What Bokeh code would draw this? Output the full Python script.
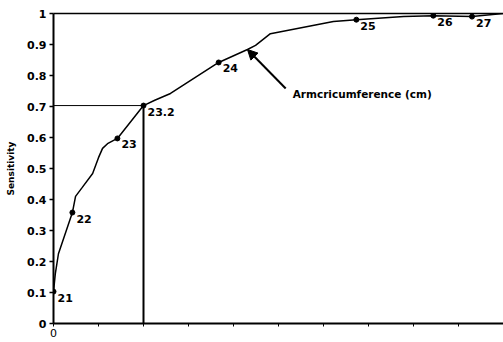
from bokeh.plotting import figure
from bokeh.models import (Range1d, LinearAxis, FixedTicker, ColumnDataSource,
                          Arrow, NormalHead, Label)
from bokeh.core.properties import value
from bokeh.embed import file_html
from bokeh.resources import INLINE

# ROC curve (1 - specificity vs sensitivity) for arm circumference cut-offs
curve_x = [0.0, 0.004, 0.011, 0.042, 0.049, 0.064, 0.087, 0.100, 0.109, 0.120,
           0.142, 0.200, 0.225, 0.260, 0.367, 0.431, 0.449, 0.482, 0.622,
           0.673, 0.778, 0.844, 0.930, 1.0]
curve_y = [0.103, 0.160, 0.225, 0.358, 0.410, 0.439, 0.484, 0.535, 0.565, 0.580,
           0.597, 0.703, 0.720, 0.742, 0.842, 0.884, 0.897, 0.935, 0.974,
           0.980, 0.990, 0.993, 0.990, 1.0]

cut_labels = ["21", "22", "23", "23.2", "24", "25", "26", "27"]
cut_x = [0.0, 0.042, 0.142, 0.200, 0.367, 0.673, 0.844, 0.930]
cut_y = [0.103, 0.358, 0.597, 0.703, 0.842, 0.980, 0.993, 0.990]

chosen_x = 0.200
chosen_y = 0.703

y_ticks = [0, 0.1, 0.2, 0.3, 0.4, 0.5, 0.6, 0.7, 0.8, 0.9, 1]
y_tick_labels = ["0", "0.1", "0.2", "0.3", "0.4", "0.5", "0.6", "0.7", "0.8", "0.9", "1"]
x_ticks = [0, 0.1, 0.2, 0.3, 0.4, 0.5, 0.6, 0.7, 0.8, 0.9]

arrow_label = "Armcricumference (cm)"
arrow_tail = (0.516, 0.758)
arrow_tip = (0.431, 0.884)

FONT = "DejaVu Sans"

p = figure(width=503, height=342, output_backend="svg", toolbar_location=None,
           x_range=Range1d(0, 1), y_range=Range1d(0, 1),
           min_border_left=53, min_border_right=0, min_border_top=13,
           min_border_bottom=19)
p.outline_line_color = None
p.xgrid.visible = False
p.ygrid.visible = False
p.background_fill_color = "white"

# y axis
ya = p.yaxis[0]
ya.ticker = FixedTicker(ticks=y_ticks)
ya.major_label_overrides = {t: l for t, l in zip(y_ticks, y_tick_labels)}
ya.major_label_text_font = FONT
ya.major_label_text_font_style = "bold"
ya.major_label_text_font_size = "11px"
ya.major_label_text_color = "black"
ya.major_tick_out = 4
ya.major_tick_in = 0
ya.major_tick_line_width = 1.5
ya.minor_tick_line_color = None
ya.axis_line_width = 2
ya.axis_label = "Sensitivity"
ya.axis_label_text_font = FONT
ya.axis_label_text_font_style = "bold"
ya.axis_label_text_font_size = "9px"
ya.axis_label_text_color = "black"
ya.axis_label_standoff = 8
ya.major_label_standoff = 3

# x axis
xa = p.xaxis[0]
xa.ticker = FixedTicker(ticks=x_ticks)
xa.major_label_overrides = {t: ("0" if t == 0 else "") for t in x_ticks}
xa.major_label_text_font = FONT
xa.major_label_text_font_size = "11px"
xa.major_label_text_color = "black"
xa.major_tick_out = 3
xa.major_tick_in = 0
xa.minor_tick_line_color = None
xa.axis_line_width = 2
xa.major_label_standoff = 2

# top border line
top = LinearAxis(ticker=FixedTicker(ticks=[]), axis_line_width=1.5,
                 major_label_text_font_size="0px", minor_tick_line_color=None,
                 major_tick_line_color=None)
p.add_layout(top, "above")

# cut-off drop lines
p.segment(x0=[0], y0=[chosen_y], x1=[chosen_x], y1=[chosen_y],
          line_color="black", line_width=1)
p.segment(x0=[chosen_x], y0=[0], x1=[chosen_x], y1=[chosen_y],
          line_color="black", line_width=2)

# ROC curve
p.line(curve_x, curve_y, line_color="black", line_width=1.5)

src = ColumnDataSource(dict(x=cut_x, y=cut_y, t=cut_labels))
p.scatter("x", "y", source=src, size=5, color="black")
p.text("x", "y", text="t", source=src, x_offset=4, y_offset=6,
       text_align="left", text_baseline="middle",
       text_font=value(FONT), text_font_style="bold",
       text_font_size="11px", text_color="black")

# arrow annotation
p.add_layout(Arrow(x_start=arrow_tail[0], y_start=arrow_tail[1],
                   x_end=arrow_tip[0], y_end=arrow_tip[1], line_width=2,
                   end=NormalHead(size=10, fill_color="black", line_color="black")))
p.add_layout(Label(x=arrow_tail[0], y=arrow_tail[1], text=arrow_label,
                   x_offset=7, y_offset=-5, text_align="left",
                   text_baseline="middle", text_font=FONT,
                   text_font_style="bold", text_font_size="10.5px",
                   text_color="black"))

open("out.html", "w").write(file_html(p, INLINE))
